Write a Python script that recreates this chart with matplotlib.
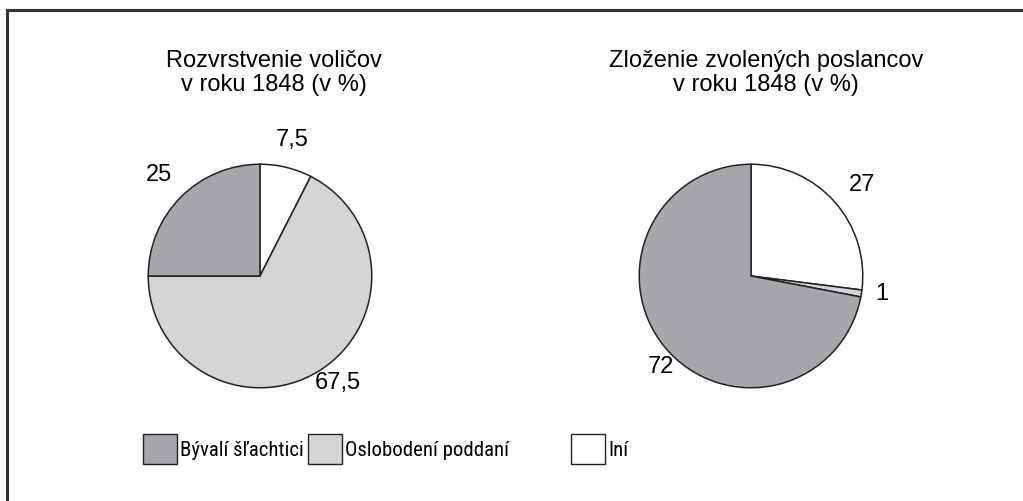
import matplotlib
matplotlib.use("Agg")
import matplotlib.pyplot as plt
from matplotlib.patches import Rectangle
from matplotlib.lines import Line2D
from matplotlib import font_manager
from matplotlib.font_manager import FontProperties

plt.rcParams['font.family'] = ['Liberation Sans', 'DejaVu Sans']

categories = ["Iní", "Oslobodení poddaní", "Bývalí šľachtici"]
voters = [7.5, 67.5, 25]
deputies = [27, 1, 72]
voter_labels = ["7,5", "67,5", "25"]
deputy_labels = ["27", "1", "72"]
title_lines = [["Rozvrstvenie voličov", "v roku 1848 (v %)"],
               ["Zloženie zvolených poslancov", "v roku 1848 (v %)"]]
legend_order = ["Bývalí šľachtici", "Oslobodení poddaní", "Iní"]

colors = {"Iní": "#ffffff", "Oslobodení poddaní": "#d4d5d7", "Bývalí šľachtici": "#a6a7aa"}
edge = "#222222"

# pick a narrow sans face for the legend if one is installed
legend_fp = None
prefs = ["Liberation Sans Narrow", "Arial Narrow", "Roboto Condensed",
         "Open Sans Condensed", "Noto Sans Condensed"]
entries = font_manager.fontManager.ttflist
for p in prefs:
    for f in entries:
        if f.name == p and f.weight in (400, "normal", "regular") and f.style == "normal":
            legend_fp = FontProperties(fname=f.fname)
            break
    if legend_fp:
        break
if legend_fp is None:
    for f in entries:
        if (f.name in ("Noto Sans", "Roboto", "Open Sans", "Lato", "Inter")
                and f.stretch in ("condensed", "semi-condensed", 500, 375)
                and f.weight in (400, "normal", "regular") and f.style == "normal"):
            legend_fp = FontProperties(fname=f.fname)
            break
if legend_fp is None:
    legend_fp = FontProperties(family=["Liberation Sans", "DejaVu Sans"])

W, H = 1023, 501
fig = plt.figure(figsize=(W / 100, H / 100), dpi=100)
renderer = fig.canvas.get_renderer()

# legend font: 15 pt unless the first label would run into the next box
probe = fig.text(0, 0, legend_order[0], fontproperties=legend_fp, fontsize=15)
wpx = probe.get_window_extent(renderer).width
probe.remove()
legend_size = min(15, 15 * 124 / wpx)

# frame (top and left edges visible)
fig.add_artist(Line2D([6.5 / W, 6.5 / W], [0, 1 - 9.5 / H], color="#333333", lw=2.2))
fig.add_artist(Line2D([6.5 / W, 1], [1 - 9.5 / H, 1 - 9.5 / H], color="#333333", lw=2.2))

R = 114
def px_axes(cx, cy):
    return fig.add_axes([(cx - R) / W, (H - cy - R) / H, 2 * R / W, 2 * R / H])

# label positions (in units of radius, relative to pie center)
left_pos = [(0.29, 1.22), (0.70, -0.96), (-0.90, 0.90)]
right_pos = [(0.99, 0.815), (1.17, -0.16), (-0.81, -0.81)]

for (cx, cy), vals, labs, pos, lines, tx in [
        ((260, 276), voters, voter_labels, left_pos, title_lines[0], 274),
        ((751, 276), deputies, deputy_labels, right_pos, title_lines[1], 766)]:
    ax = px_axes(cx, cy)
    ax.pie(vals, colors=[colors[c] for c in categories], startangle=90,
           counterclock=False, radius=1,
           wedgeprops=dict(edgecolor=edge, linewidth=1.1))
    ax.set_xlim(-1.02, 1.02)
    ax.set_ylim(-1.02, 1.02)
    ax.set_aspect("equal")
    ax.axis("off")
    for lab, (x, y) in zip(labs, pos):
        ax.text(x, y, lab, ha="center", va="center", fontsize=17, clip_on=False)
    for i, line in enumerate(lines):
        fig.text(tx / W, 1 - (67 + 24 * i) / H, line, ha="center", va="baseline",
                 fontsize=17)

# legend
boxes = [(143, "Bývalí šľachtici"), (308, "Oslobodení poddaní"), (571, "Iní")]
for x0, name in boxes:
    fig.add_artist(Rectangle((x0 / W, 1 - 464 / H), 34 / W, 30 / H,
                             facecolor=colors[name], edgecolor=edge, lw=1.0))
    fig.text((x0 + 37) / W, 1 - 456 / H, name, ha="left", va="baseline",
             fontproperties=legend_fp, fontsize=legend_size)

fig.savefig("out.png", dpi=100)
